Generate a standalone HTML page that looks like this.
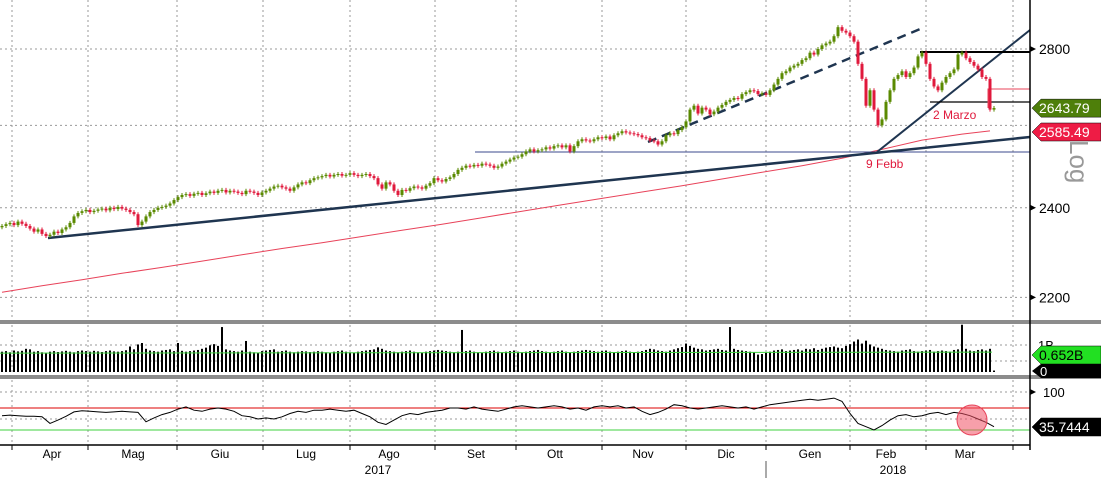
<!DOCTYPE html>
<html><head><meta charset="utf-8">
<style>
html,body{margin:0;padding:0;background:#fff;}
svg{display:block;font-family:"Liberation Sans",sans-serif;}
</style></head>
<body>
<svg id="chart" width="1101" height="481" viewBox="0 0 1101 481" xmlns="http://www.w3.org/2000/svg">
<g id="grid"></g>
<g id="main"></g>
<g id="vol"></g>
<g id="rsi"></g>
<g id="axes"></g>
</svg>
<script>
const closes=[2358,2362,2365,2360,2368,2363,2358,2352,2345,2350,
2340,2335,2338,2345,2342,2350,2355,2365,2380,2388,
2392,2395,2390,2393,2396,2398,2394,2400,2397,2402,
2398,2395,2390,2385,2360,2368,2380,2390,2395,2400,
2402,2405,2410,2418,2425,2430,2432,2428,2433,2435,
2430,2434,2438,2435,2440,2442,2436,2440,2438,2435,
2432,2440,2438,2435,2430,2436,2440,2445,2450,2452,
2448,2445,2440,2448,2455,2460,2458,2465,2470,2472,
2475,2478,2474,2478,2480,2476,2478,2482,2478,2475,
2478,2480,2475,2470,2455,2445,2460,2455,2440,2430,
2442,2440,2446,2450,2448,2445,2452,2458,2470,2465,
2462,2468,2472,2480,2490,2495,2500,2498,2502,2500,
2505,2503,2500,2495,2498,2505,2510,2515,2520,2522,
2528,2535,2540,2535,2538,2540,2545,2542,2548,2550,
2545,2550,2535,2548,2560,2565,2562,2560,2565,2570,
2568,2572,2565,2575,2580,2585,2582,2580,2578,2575,
2570,2568,2562,2560,2552,2560,2575,2580,2578,2588,
2595,2610,2640,2650,2630,2645,2640,2628,2635,2645,
2652,2660,2665,2670,2668,2680,2685,2690,2688,2680,
2682,2678,2690,2705,2720,2735,2740,2750,2755,2760,
2770,2775,2790,2785,2800,2810,2815,2820,2835,2860,
2850,2845,2835,2820,2760,2720,2650,2690,2640,2600,
2615,2660,2690,2720,2730,2740,2725,2735,2750,2780,
2790,2760,2720,2700,2690,2710,2725,2735,2745,2785,
2790,2775,2765,2755,2745,2725,2720,2640,2644];
const volumes=[.70,.72,.68,.74,.71,.73,.80,.78,.70,.72,
.68,.66,.70,.72,.69,.71,.73,.70,.68,.72,
.74,.72,.70,.73,.71,.69,.72,.74,.71,.70,
.72,.75,.88,.78,.95,1.0,.80,.74,.72,.70,
.74,.76,.78,.72,1.0,.73,.70,.72,.74,.76,
.80,.84,.92,.96,.90,1.55,.78,.74,.72,.70,
.74,1.07,.70,.68,.66,.72,.74,.76,.78,.70,
.72,.74,.70,.68,.70,.72,.71,.69,.70,.72,
.70,.68,.66,.70,.72,.74,.70,.68,.66,.70,
.72,.74,.76,.78,.85,.80,.74,.72,.70,.68,
.70,.72,.74,.70,.68,.66,.70,.72,.74,.76,
.74,.72,.70,.68,.70,1.45,.72,.74,.70,.68,
.66,.70,.72,.74,.70,.68,.70,.72,.74,.70,
.68,.70,.72,.74,.76,.72,.70,.68,.70,.72,
.74,.70,.68,.70,.72,.74,.76,.74,.72,.70,
.72,.74,.70,.68,.70,.72,.74,.70,.68,.70,
.72,.76,.80,.78,.74,.72,.70,.74,.78,.82,
.86,.98,.90,.84,.80,.78,.74,.76,.78,.80,
.76,.74,1.55,.80,.76,.74,.72,.70,.68,.60,
.62,.66,.70,.74,.76,.78,.72,.74,.76,.78,
.74,.80,.78,.82,.76,.80,.84,.86,.88,.84,
.82,.90,.96,1.05,1.12,.98,1.08,.95,.88,.84,
.80,.76,.74,.72,.70,.74,.76,.78,.72,.70,
.72,.74,.76,.70,.72,.74,.72,.70,.76,.78,
1.63,.80,.74,.72,.76,.78,.74,.80,.05];
const rsiValues=[56,57,56,55,55,54,42,48,55,63,
65,64,63,62,63,64,63,62,45,52,
58,62,68,72,66,64,68,70,68,64,
56,54,50,52,50,54,60,64,62,66,
66,68,66,64,66,60,54,44,40,48,
56,60,58,62,64,66,70,70,68,72,
68,66,64,68,72,74,72,70,72,74,
72,68,70,66,72,74,72,74,70,72,
64,58,62,68,76,74,70,68,70,72,
74,72,70,72,68,72,76,78,80,82,
84,86,84,86,88,82,60,42,36,30,
38,48,56,58,54,56,60,62,58,62,
60,56,50,44,36];
const ma200=[2211,2225,2238,2252,2265,2279,2293,2307,2320,2334,2348,2362,2377,2392,2407,2422,2437,2452,2468,2484,2500,2518,2540,2563,2578,2586];
const priceTicks=[2200,2400,2600,2800];
const priceLabels=["2200","2400","","2800"];
const monthLabels=["Apr","Mag","Giu","Lug","Ago","Set","Ott","Nov","Dic","Gen","Feb","Mar"];
const monthX=[52,133,220,306,389,476,555,643,726,810,886,965];
const gridX=[12,88,177,263,350,435,516,602,686,766,850,926,1013];
const lastPrice=2643.79, maLast=2585.49, volMA=0.652, rsiLast=35.7444;

const NS="http://www.w3.org/2000/svg";
function mk(parent,tag,attrs,name){const e=document.createElementNS(NS,tag);for(const k in attrs)e.setAttribute(k,attrs[k]);


document.getElementById(parent).appendChild(e);return e;}
const xOf=i=>2+i*4;
const yP=v=>49+(Math.log(2800)-Math.log(v))*1030;
const yV=v=>372-v*29;
function yRsi(v){return 419-(v-50)*0.55;}

gridX.forEach(x=>{mk('grid','line',{x1:x,y1:0,x2:x,y2:445,stroke:'#999','stroke-dasharray':'2,3','stroke-width':1},'v-gridline');});
priceTicks.forEach(t=>{mk('grid','line',{x1:0,y1:yP(t),x2:1030,y2:yP(t),stroke:'#999','stroke-dasharray':'2,3'},'h-gridline');});
[345,361].forEach(y=>mk('grid','line',{x1:0,y1:y,x2:1030,y2:y,stroke:'#999','stroke-dasharray':'2,3'},'vol-gridline'));
[392,419].forEach(y=>mk('grid','line',{x1:0,y1:y,x2:1030,y2:y,stroke:'#999','stroke-dasharray':'2,3'},'rsi-gridline'));

let d='';ma200.forEach((v,k)=>{d+=(k?'L':'M')+Math.min(xOf(k*10),990)+','+yP(v).toFixed(1);});
mk('main','path',{d:d,fill:'none',stroke:'#e8435a','stroke-width':1},'ma200-line');

mk('main','line',{x1:475,y1:152,x2:1030,y2:152,stroke:'#3b4a8c','stroke-width':1},'support-horizontal');
mk('main','line',{x1:48,y1:238,x2:1030,y2:137,stroke:'#1f3550','stroke-width':2.5},'long-trendline');
mk('main','line',{x1:877,y1:152,x2:1030,y2:30,stroke:'#1f3550','stroke-width':2},'short-trendline');
mk('main','line',{x1:648,y1:142,x2:925,y2:27,stroke:'#1f3550','stroke-width':2.5,'stroke-dasharray':'9,6'},'dashed-channel');
mk('main','line',{x1:920,y1:52,x2:1030,y2:52,stroke:'#000','stroke-width':2},'resistance-line');
mk('main','line',{x1:930,y1:102,x2:1030,y2:102,stroke:'#000','stroke-width':1.2},'range-low-line');
mk('main','path',{d:'M988,108 L988,89 L1030,89',fill:'none',stroke:'#e8435a','stroke-width':1},'gap-marker');

closes.forEach((c,i)=>{
  const o=i?closes[i-1]:c-3;
  const up=c>=o, col=up?'#5a8a00':'#e0193c';
  const x=xOf(i);
  const top=yP(Math.max(o,c)),bot=yP(Math.min(o,c));
  mk('main','line',{x1:x,y1:top-2,x2:x,y2:bot+2,stroke:col,'stroke-width':1},'candle-wick');
  mk('main','rect',{x:x-1.5,y:top,width:3,height:Math.max(1,bot-top),fill:col},'candle-body');
});
let t=mk('main','text',{x:866,y:168,fill:'#e0193c','font-size':12},'label-9-febb');t.textContent='9 Febb';
t=mk('main','text',{x:933,y:119,fill:'#e0193c','font-size':12},'label-2-marzo');t.textContent='2 Marzo';

volumes.forEach((v,i)=>{mk('vol','rect',{x:xOf(i)-1,y:yV(v),width:2,height:372-yV(v),fill:'#000'},'volume-bar');});
mk('vol','line',{x1:0,y1:yV(volMA),x2:992,y2:yV(volMA)-1,stroke:'#3fd23f','stroke-width':1},'volume-ma-line');

mk('rsi','line',{x1:0,y1:yRsi(70),x2:1030,y2:yRsi(70),stroke:'#d00','stroke-width':1},'rsi-70-line');
mk('rsi','line',{x1:0,y1:yRsi(30),x2:1030,y2:yRsi(30),stroke:'#3fd23f','stroke-width':1},'rsi-30-line');
d='';rsiValues.forEach((v,k)=>{d+=(k?'L':'M')+(2+k*8)+','+yRsi(v).toFixed(1);});
mk('rsi','path',{d:d,fill:'none',stroke:'#000','stroke-width':1},'rsi-line');
mk('rsi','circle',{cx:972,cy:420,r:15,fill:'rgba(240,80,100,0.55)',stroke:'#e8435a'},'rsi-highlight-circle');

mk('axes','rect',{x:0,y:320,width:1101,height:4,fill:'#8c8c8c'},'panel-separator');
mk('axes','rect',{x:0,y:375,width:1101,height:4,fill:'#8c8c8c'},'panel-separator');
mk('axes','line',{x1:1030,y1:0,x2:1030,y2:450,stroke:'#000','stroke-width':1.5},'right-axis');
mk('axes','line',{x1:0,y1:445,x2:1030,y2:445,stroke:'#000','stroke-width':1.5},'x-axis');
t=mk('axes','text',{x:0,y:0,'font-size':26,fill:'#999',transform:'translate(1070,140) rotate(90)'},'log-scale-label');t.textContent='Log';
priceTicks.forEach((p,k)=>{if(!priceLabels[k])return;const y=yP(p);
 mk('axes','path',{d:`M1030,${y-3}L1036,${y}L1030,${y+3}Z`,fill:'#000'},'tick-arrow');
 const tt=mk('axes','text',{x:1039,y:y+5,'font-size':14,fill:'#000'},'y-tick-label');tt.textContent=priceLabels[k];});
function tag(y,txt,bg,fg,name){mk('axes','path',{d:`M1032,${y}L1041,${y-9}L1101,${y-9}L1101,${y+9}L1041,${y+9}Z`,fill:bg,stroke:'#000','stroke-width':0.5},name+'-bg');
 const tt=mk('axes','text',{x:1039,y:y+5,'font-size':14,fill:fg},name);tt.textContent=txt;}
tag(yP(lastPrice),lastPrice.toFixed(2),'#4e7f0a','#fff','last-price-tag');
tag(132,maLast.toFixed(2),'#ee1c45','#fff','ma200-tag');
t=mk('axes','text',{x:1038,y:350,'font-size':13,fill:'#000'},'vol-tick-1b');t.textContent='1B';
tag(355,volMA+'B','#22e022','#000','volume-tag');
mk('axes','path',{d:'M1032,371L1041,364L1101,364L1101,378L1041,378Z',fill:'#000'},'vol-zero-tag-bg');
t=mk('axes','text',{x:1040,y:376,'font-size':13,fill:'#fff'},'vol-zero-label');t.textContent='0';
t=mk('axes','text',{x:1043,y:397,'font-size':13,fill:'#000'},'rsi-tick-100');t.textContent='100';
mk('axes','path',{d:'M1030,389L1036,392L1030,395Z',fill:'#000'},'tick-arrow');
tag(427,String(rsiLast),'#000','#fff','rsi-tag');
monthLabels.forEach((m,k)=>{const tt=mk('axes','text',{x:monthX[k],y:458,'font-size':12,'text-anchor':'middle',fill:'#000'},'month-label');tt.textContent=m;});
gridX.forEach(x=>mk('axes','line',{x1:x,y1:445,x2:x,y2:450,stroke:'#000'},'x-tick'));
mk('axes','line',{x1:766,y1:461,x2:766,y2:478,stroke:'#555'},'year-separator');
t=mk('axes','text',{x:378,y:474,'font-size':12,'text-anchor':'middle'},'year-2017');t.textContent='2017';
t=mk('axes','text',{x:893,y:474,'font-size':12,'text-anchor':'middle'},'year-2018');t.textContent='2018';
</script>
</body></html>
